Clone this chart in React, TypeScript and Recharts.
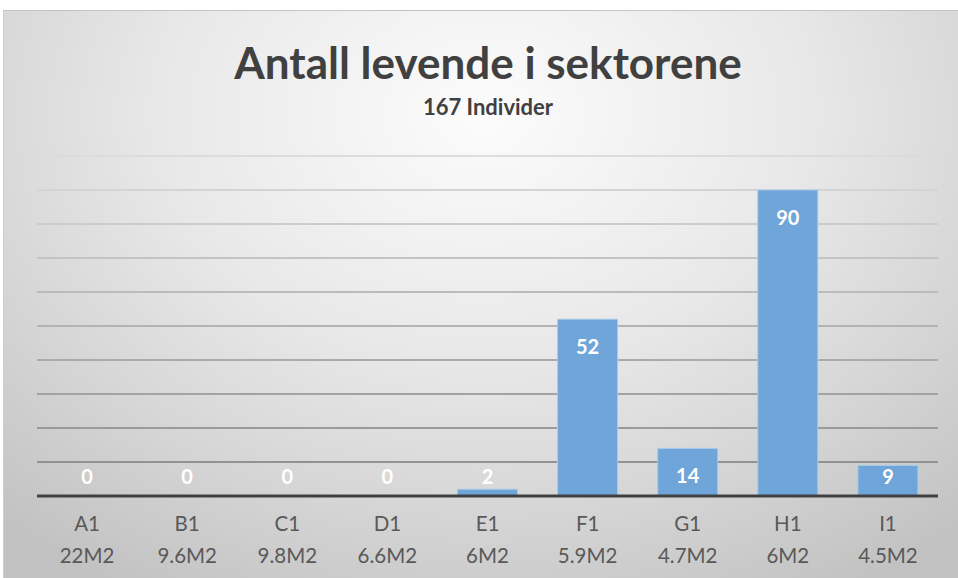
import React from 'react';
import { ComposedChart, Bar, Line, XAxis, YAxis, CartesianGrid, LabelList } from 'recharts';

const categories = ['A1', 'B1', 'C1', 'D1', 'E1', 'F1', 'G1', 'H1', 'I1'];
const areas = ['22M2', '9.6M2', '9.8M2', '6.6M2', '6M2', '5.9M2', '4.7M2', '6M2', '4.5M2'];
const values = [0, 0, 0, 0, 2, 52, 14, 90, 9];
const yTicks = [0, 10, 20, 30, 40, 50, 60, 70, 80, 90, 100];

const title = 'Antall levende i sektorene';
const subtitle = '167 Individer';

const data = categories.map((c, i) => ({ name: c, area: areas[i], value: values[i] }));

const FONT = 'Lato, "Open Sans", sans-serif';

const Tick = (props: any) => {
  const { x, y, payload, index } = props;
  return (
    <g transform={`translate(${x},${y})`}>
      <text textAnchor="middle" fill="#595959" fontSize={20.5} fontFamily={FONT}>
        <tspan x={0} dy={27}>{payload.value}</tspan>
        <tspan x={0} dy={32}>{areas[index]}</tspan>
      </text>
    </g>
  );
};

const PointLabel = (props: any) => {
  const { x, y, value } = props;
  const cy = Math.min(y + 27, 476);
  return (
    <text
      x={x}
      y={cy}
      textAnchor="middle"
      dominantBaseline="central"
      fill="#ffffff"
      fontWeight="bold"
      fontSize={20}
      fontFamily={FONT}
    >
      {value}
    </text>
  );
};

export default function App() {
  return (
    <div style={{ position: 'absolute', left: 0, top: 0, width: 958, height: 578, background: '#ffffff', overflow: 'hidden' }}>
      <div
        style={{
          position: 'absolute',
          left: 3,
          top: 10,
          width: 960,
          height: 575,
          borderTop: '1px solid #c4c4c4',
          borderLeft: '1px solid #d0d0d0',
          background: 'radial-gradient(ellipse 75% 95% at 50% 18%, #fcfcfc 0%, #e8e8e8 45%, #d4d4d4 75%, #c2c2c2 100%)',
        }}
      />
      <div
        style={{
          position: 'absolute',
          left: 0,
          top: 34,
          width: 976,
          textAlign: 'center',
          fontFamily: FONT,
          fontWeight: 'bold',
          fontSize: 44,
          color: '#404040',
          lineHeight: '56px',
        }}
      >
        {title}
      </div>
      <div
        style={{
          position: 'absolute',
          left: 0,
          top: 93,
          width: 976,
          textAlign: 'center',
          fontFamily: FONT,
          fontWeight: 'bold',
          fontSize: 22,
          color: '#404040',
          lineHeight: '28px',
        }}
      >
        {subtitle}
      </div>
      <div style={{ position: 'absolute', left: 0, top: 0 }}>
        <ComposedChart
          width={958}
          height={578}
          data={data}
          margin={{ top: 156, right: 20, bottom: 12, left: 37 }}
          barCategoryGap="20%"
        >
          <defs>
            <linearGradient id="gridGrad" gradientUnits="userSpaceOnUse" x1="0" y1="156" x2="0" y2="496">
              <stop offset="0%" stopColor="#dcdcdc" />
              <stop offset="100%" stopColor="#8a8a8a" />
            </linearGradient>
          </defs>
          <CartesianGrid vertical={false} stroke="url(#gridGrad)" strokeWidth={2} />
          <YAxis hide domain={[0, 100]} ticks={yTicks} />
          <XAxis
            dataKey="name"
            height={70}
            interval={0}
            tickLine={false}
            axisLine={{ stroke: '#404040', strokeWidth: 3 }}
            tick={<Tick />}
          />
          <Bar dataKey="value" fill="#6fa5d8" stroke="#a8cbeb" strokeWidth={1} isAnimationActive={false} />
          <Line dataKey="value" stroke="none" dot={false} activeDot={false} isAnimationActive={false}>
            <LabelList dataKey="value" content={<PointLabel />} />
          </Line>
        </ComposedChart>
      </div>
    </div>
  );
}
